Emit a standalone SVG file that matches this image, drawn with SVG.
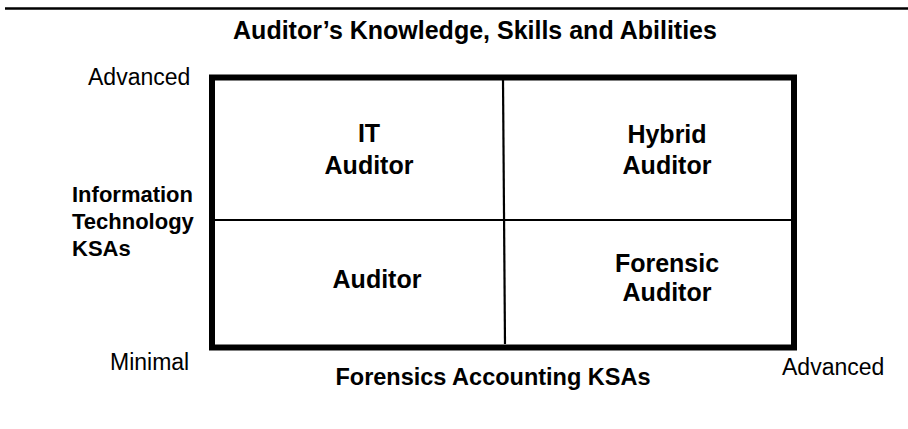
<svg xmlns="http://www.w3.org/2000/svg" width="908" height="429" viewBox="0 0 908 429">
<style>
text{font-family:"Liberation Sans",Arial,sans-serif;fill:#000}
.b{font-weight:bold}
.q{font-weight:bold;font-size:25px;text-anchor:middle}
.r{font-size:23px}
</style>
<rect width="908" height="429" fill="#fff"/>
<line x1="5" y1="8.5" x2="908" y2="8.5" stroke="#000" stroke-width="2.5"/>
<text x="475" y="39" class="b" font-size="25" text-anchor="middle">Auditor’s Knowledge, Skills and Abilities</text>
<g id="axes">
<text x="88" y="85" class="r" font-size="23.5">Advanced</text>
<text x="110" y="370" class="r">Minimal</text>
<text x="782" y="375" class="r">Advanced</text>
<text x="493" y="385" class="b" font-size="23.5" text-anchor="middle">Forensics Accounting KSAs</text>
<text class="b" font-size="22"><tspan x="72" y="202">Information</tspan><tspan x="72" y="229">Technology</tspan><tspan x="72" y="256">KSAs</tspan></text>
</g>
<g id="connectors" stroke="#000" fill="none">
<rect x="212" y="77.5" width="582" height="270" stroke-width="6"/>
<line x1="503" y1="80" x2="505" y2="344" stroke-width="2.2"/>
<line x1="215" y1="220" x2="791" y2="220" stroke-width="2.2"/>
</g>
<g id="it-auditor"><text class="q"><tspan x="369" y="142">IT</tspan><tspan x="369" y="174">Auditor</tspan></text></g>
<g id="hybrid-auditor"><text class="q"><tspan x="667" y="143">Hybrid</tspan><tspan x="667" y="174">Auditor</tspan></text></g>
<g id="auditor"><text class="q" x="377" y="288">Auditor</text></g>
<g id="forensic-auditor"><text class="q"><tspan x="667" y="272">Forensic</tspan><tspan x="667" y="301">Auditor</tspan></text></g>
</svg>
